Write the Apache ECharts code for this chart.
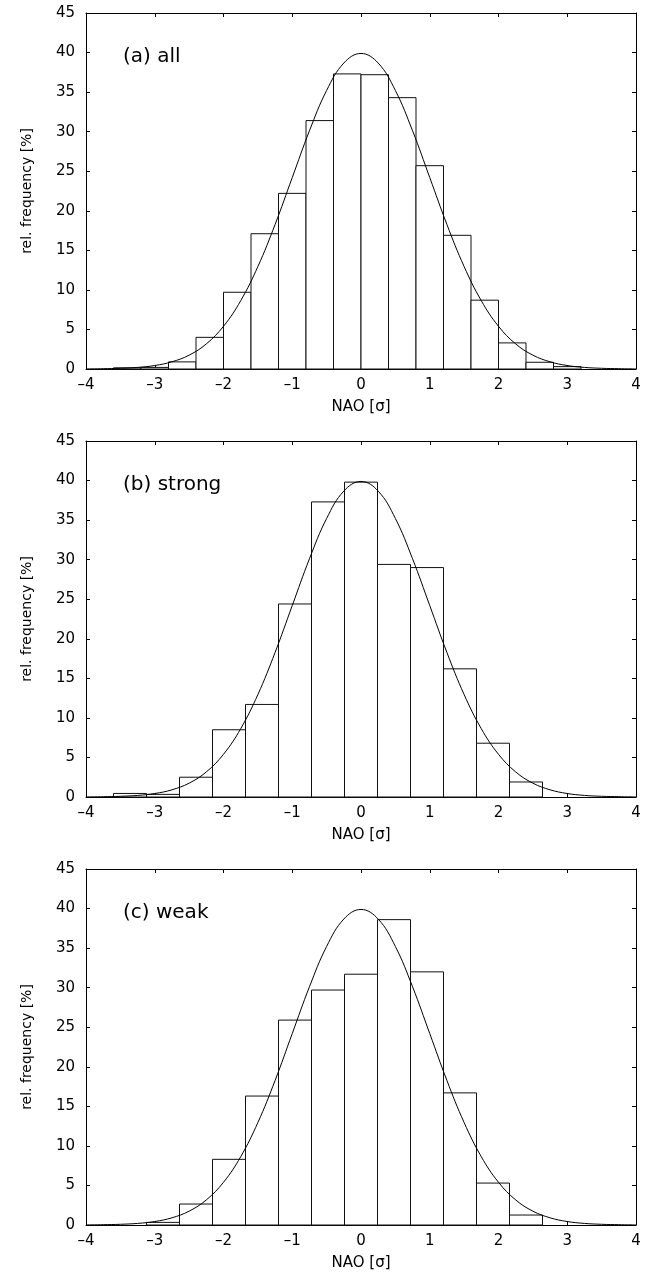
<!DOCTYPE html>
<html>
<head>
<meta charset="utf-8">
<title>NAO histograms</title>
<script src="https://cdn.jsdelivr.net/npm/echarts@6/dist/echarts.min.js"></script>
<style>
  html, body { margin: 0; padding: 0; background: #fff; }
  #chart { width: 652px; height: 1278px; }
</style>
</head>
<body>
<div id="chart"></div>
<script>
// bin edges (NAO in sigma) and relative frequencies [%]
var edgesA = [-3.6, -3.2, -2.8, -2.4, -2.0, -1.6, -1.2, -0.8, -0.4, 0, 0.4, 0.8, 1.2, 1.6, 2.0, 2.4, 2.8, 3.2];
var freqA  = [0.15, 0.2, 0.9, 4.0, 9.7, 17.1, 22.2, 31.4, 37.3, 37.2, 34.3, 25.7, 16.9, 8.7, 3.3, 0.85, 0.3];

var edgesB = [-3.6, -3.12, -2.64, -2.16, -1.68, -1.2, -0.72, -0.24, 0.24, 0.72, 1.2, 1.68, 2.16, 2.64];
var freqB  = [0.45, 0.33, 2.5, 8.5, 11.7, 24.4, 37.3, 39.8, 29.4, 29.0, 16.2, 6.8, 1.9];

var edgesC = [-3.12, -2.64, -2.16, -1.68, -1.2, -0.72, -0.24, 0.24, 0.72, 1.2, 1.68, 2.16, 2.64];
var freqC  = [0.33, 2.65, 8.3, 16.3, 25.9, 29.7, 31.7, 38.6, 32.0, 16.7, 5.3, 1.26];

// normal curve, read at 0.25 sigma steps (same in all panels)
var curveX = [-4, -3.75, -3.5, -3.25, -3, -2.75, -2.5, -2.25, -2, -1.75, -1.5, -1.25, -1, -0.75, -0.5, -0.25, 0,
              0.25, 0.5, 0.75, 1, 1.25, 1.5, 1.75, 2, 2.25, 2.5, 2.75, 3, 3.25, 3.5, 3.75, 4];
var curveY = [0.01, 0.04, 0.09, 0.2, 0.44, 0.91, 1.75, 3.17, 5.4, 8.63, 12.95, 18.26, 24.2, 30.11, 35.21, 38.67, 39.89,
              38.67, 35.21, 30.11, 24.2, 18.26, 12.95, 8.63, 5.4, 3.17, 1.75, 0.91, 0.44, 0.2, 0.09, 0.04, 0.01];

var panelTitles = ['(a) all', '(b) strong', '(c) weak'];
var xTicks = [-4, 4, 1];   // min, max, step
var yTicks = [0, 45, 5];

var FONT = 'DejaVu Sans';
var gridTops = [13, 441, 869];

function binData(edges, freq) {
	var d = [];
	for (var i = 0; i < freq.length; i++) {
		d.push([edges[i], edges[i + 1], freq[i]]);
	}
	return d;
}

function renderBar(params, api) {
	var p0 = api.coord([api.value(0), 0]);
	var p1 = api.coord([api.value(1), api.value(2)]);
	return {
		type: 'rect',
		shape: { x: p0[0], y: p1[1], width: p1[0] - p0[0], height: p0[1] - p1[1] },
		style: { fill: '#fff', stroke: '#111', lineWidth: 1 }
	};
}

function dash(v) {
	return String(v).replace('-', '\u2013');
}

var myChart = echarts.init(document.getElementById('chart'), null, { renderer: 'canvas' });

var grids = [], xAxes = [], yAxes = [], series = [], titles = [];
var bins = [binData(edgesA, freqA), binData(edgesB, freqB), binData(edgesC, freqC)];
var curve = curveX.map(function (x, i) { return [x, curveY[i]]; });

for (var k = 0; k < 3; k++) {
	grids.push({ left: 86, width: 550, top: gridTops[k], height: 356 });
	titles.push({
		text: panelTitles[k], left: 118, top: gridTops[k] + 29,
		textStyle: { fontFamily: FONT, fontSize: 20, fontWeight: 'normal', color: '#000' }
	});
	// bottom axis with labels
	xAxes.push({
		gridIndex: k, type: 'value', min: xTicks[0], max: xTicks[1], interval: xTicks[2],
		name: 'NAO [\u03c3]', nameLocation: 'middle', nameGap: 31,
		nameTextStyle: { fontFamily: FONT, fontSize: 15, color: '#000' },
		axisLine: { onZero: false, lineStyle: { color: '#000', width: 1 } },
		axisTick: { inside: true, length: 4, lineStyle: { color: '#000' } },
		axisLabel: { fontFamily: FONT, fontSize: 15, color: '#000', margin: 9, formatter: dash },
		splitLine: { show: false }
	});
	// top mirror
	xAxes.push({
		gridIndex: k, type: 'value', position: 'top', min: xTicks[0], max: xTicks[1], interval: xTicks[2],
		axisLine: { onZero: false, lineStyle: { color: '#000', width: 1 } },
		axisTick: { inside: true, length: 4, lineStyle: { color: '#000' } },
		axisLabel: { show: false }, splitLine: { show: false }
	});
	yAxes.push({
		gridIndex: k, type: 'value', min: yTicks[0], max: yTicks[1], interval: yTicks[2],
		name: 'rel. frequency [%]', nameLocation: 'middle', nameGap: 52,
		nameTextStyle: { fontFamily: FONT, fontSize: 14, color: '#000' },
		axisLine: { show: true, onZero: false, lineStyle: { color: '#000', width: 1 } },
		axisTick: { show: true, inside: true, length: 4, lineStyle: { color: '#000' } },
		axisLabel: { fontFamily: FONT, fontSize: 15, color: '#000', margin: 11 },
		splitLine: { show: false }
	});
	// right mirror
	yAxes.push({
		gridIndex: k, type: 'value', position: 'right', min: yTicks[0], max: yTicks[1], interval: yTicks[2],
		axisLine: { show: true, onZero: false, lineStyle: { color: '#000', width: 1 } },
		axisTick: { show: true, inside: true, length: 4, lineStyle: { color: '#000' } },
		axisLabel: { show: false }, splitLine: { show: false }
	});
	series.push({
		type: 'custom', xAxisIndex: 2 * k, yAxisIndex: 2 * k,
		renderItem: renderBar,
		encode: { x: [0, 1], y: 2 },
		data: bins[k], z: 2, silent: true
	});
	series.push({
		type: 'line', xAxisIndex: 2 * k, yAxisIndex: 2 * k,
		data: curve, smooth: 0.4, showSymbol: false,
		lineStyle: { color: '#000', width: 1 }, z: 3, silent: true
	});
}

option = {
	animation: false,
	backgroundColor: '#fff',
	title: titles,
	grid: grids,
	xAxis: xAxes,
	yAxis: yAxes,
	series: series
};
myChart.setOption(option);
</script>
</body>
</html>
